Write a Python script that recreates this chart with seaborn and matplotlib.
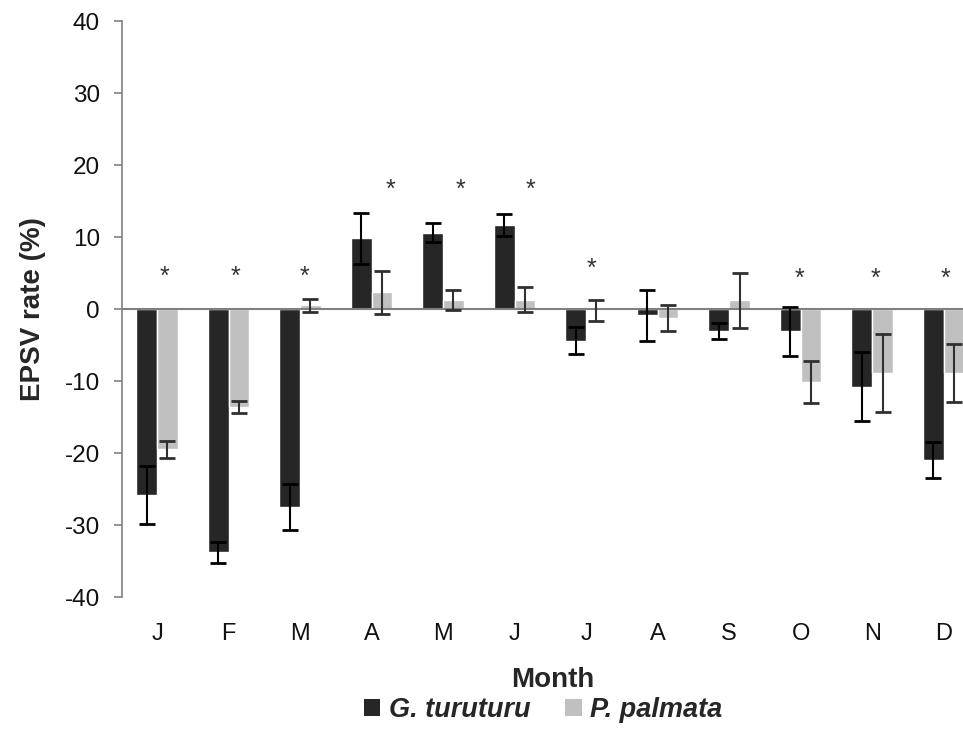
import matplotlib
matplotlib.use("Agg")
import matplotlib.pyplot as plt
import seaborn as sns
import pandas as pd
from matplotlib.patches import Patch

months = ["Jan", "Feb", "Mar", "Apr", "May", "Jun", "Jul", "Aug", "Sep", "Oct", "Nov", "Dec"]
month_labels = ["J", "F", "M", "A", "M", "J", "J", "A", "S", "O", "N", "D"]
species = ["G. turuturu", "P. palmata"]

g_vals = [-25.8, -33.8, -27.5, 9.8, 10.6, 11.7, -4.4, -0.9, -3.1, -3.1, -10.8, -21.0]
g_err = [4.0, 1.5, 3.2, 3.6, 1.3, 1.5, 1.9, 3.6, 1.1, 3.4, 4.8, 2.5]
p_vals = [-19.5, -13.6, 0.5, 2.3, 1.2, 1.3, -0.2, -1.3, 1.2, -10.1, -8.9, -8.9]
p_err = [1.2, 0.8, 0.9, 3.0, 1.4, 1.7, 1.5, 1.8, 3.8, 2.9, 5.4, 4.0]

star_months = ["Jan", "Feb", "Mar", "Apr", "May", "Jun", "Jul", "Oct", "Nov", "Dec"]
star_offset = [0.10, 0.10, 0.06, 0.27, 0.25, 0.22, 0.08, -0.02, 0.04, 0.03]
star_y = [4.5, 4.5, 4.5, 16.6, 16.6, 16.6, 5.6, 4.2, 4.2, 4.2]

colors = {"G. turuturu": "#262626", "P. palmata": "#c0c0c0"}

df = pd.DataFrame({
    "month": months * 2,
    "species": [species[0]] * 12 + [species[1]] * 12,
    "value": g_vals + p_vals,
})

sns.set_theme(style="white")
plt.rcParams["font.family"] = ["Liberation Sans", "DejaVu Sans"]
plt.rcParams["axes.unicode_minus"] = False

fig = plt.figure(figsize=(9.63, 7.45), dpi=100)
ax = fig.add_axes([122 / 963, (745 - 597) / 745, (963 - 122) / 963, 576 / 745])

sns.barplot(data=df, x="month", y="value", hue="species", order=months,
            hue_order=species, palette=colors, width=0.58, gap=0,
            saturation=1, errorbar=None, legend=False, ax=ax)

for cont, errs, ecol in zip(ax.containers, [g_err, p_err], ["#000000", "#303030"]):
    xs = [b.get_x() + b.get_width() / 2 for b in cont]
    ys = [b.get_height() for b in cont]
    ax.errorbar(xs, ys, yerr=errs, fmt="none", ecolor=ecol, elinewidth=1.5,
                capsize=6, capthick=2, zorder=3)

ax.axhline(0, color="#808080", lw=1.5, zorder=2)

for m, off, y in zip(star_months, star_offset, star_y):
    ax.text(months.index(m) + off, y, "*", ha="center", va="center",
            fontsize=18, color="#333333")

ax.set_ylim(-40, 40)
ax.set_xlim(-0.49, 11.27)
ax.set_yticks(range(-40, 41, 10))
ax.set_xticks(range(12))
ax.set_xticklabels(month_labels)
ax.tick_params(axis="y", left=True, length=6, width=1.2, color="#808080",
               labelsize=17.5, pad=10, labelcolor="#111111")
ax.tick_params(axis="x", bottom=False, labelsize=17, pad=13, labelcolor="#111111")
for s in ["top", "right", "bottom"]:
    ax.spines[s].set_visible(False)
ax.spines["left"].set_color("#808080")
ax.spines["left"].set_linewidth(1.2)

ax.set_ylabel("EPSV rate (%)", fontsize=20, fontweight="bold")
ax.yaxis.set_label_coords(-0.0903, 0.5)
ax.set_xlabel("Month", fontsize=20, fontweight="bold")
ax.xaxis.set_label_coords(0.512, -0.122)

handles = [Patch(facecolor=colors[s], edgecolor="none") for s in species]
fig.legend(handles, species, loc="center", bbox_to_anchor=(0.564, 0.047),
           ncol=2, frameon=False, handlelength=0.6, handleheight=0.6,
           handletextpad=0.3, columnspacing=1.3,
           prop={"size": 19.5, "weight": "bold", "style": "italic"})

fig.savefig("out.png", dpi=100)
